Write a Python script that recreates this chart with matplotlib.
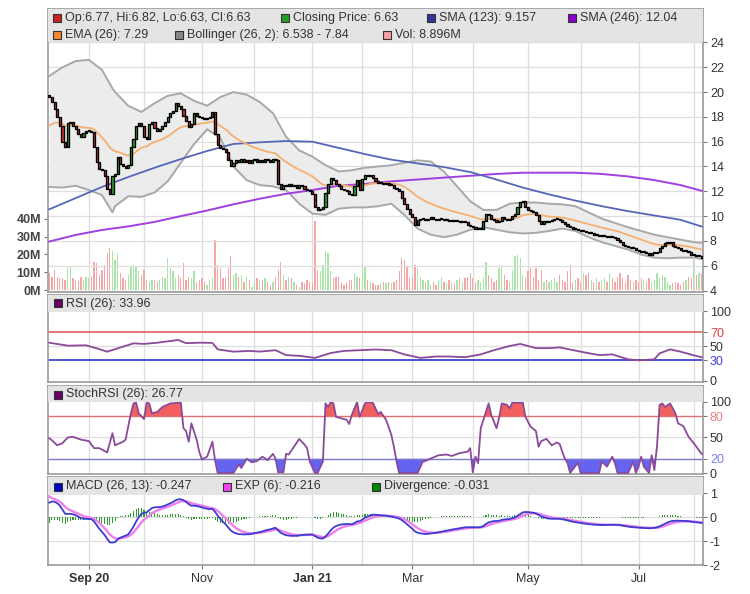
import numpy as np
import pandas as pd
import matplotlib
matplotlib.use("Agg")
import matplotlib.pyplot as plt
from matplotlib.patches import Rectangle

plt.rcParams['font.family'] = ['Liberation Sans', 'DejaVu Sans']
plt.rcParams['axes.unicode_minus'] = False

# ---------------- data ----------------
holidays = ['2020-09-07', '2020-11-26', '2020-12-25', '2021-01-01', '2021-01-18',
            '2021-02-15', '2021-04-02', '2021-05-31', '2021-07-05']
dates = pd.bdate_range('2020-08-11', '2021-08-05', freq='C', holidays=holidays)

first_open = 19.8
close = [19.6, 19.2, 18.6, 18.0, 17.3, 16.0, 15.6, 17.5, 17.6, 17.3,
         17.0, 16.6, 16.4, 16.7, 16.9, 16.9, 16.8, 15.6, 14.4, 13.8,
         13.7, 13.2, 12.2, 11.8, 13.2, 13.4, 14.8, 14.2, 14.0, 13.9,
         14.1, 15.6, 16.2, 17.3, 17.5, 17.3, 16.4, 16.2, 17.4, 17.6,
         17.1, 16.9, 17.0, 17.3, 17.6, 18.0, 18.3, 18.5, 19.1, 18.9,
         18.6, 18.1, 17.7, 17.2, 17.4, 18.3, 18.1, 18.0, 17.9, 17.8,
         17.9, 18.0, 18.4, 16.6, 15.7, 15.5, 15.4, 15.2, 14.5, 14.0,
         14.3, 14.5, 14.4, 14.6, 14.4, 14.5, 14.3, 14.5, 14.6, 14.4,
         14.5, 14.4, 14.6, 14.5, 14.4, 14.6, 14.5, 12.6, 12.2, 12.5,
         12.4, 12.6, 12.4, 12.5, 12.3, 12.5, 12.4, 12.2, 12.1, 12.0,
         11.8, 10.7, 10.5, 10.6, 10.7, 11.9, 12.6, 13.1, 12.9, 12.6,
         12.4, 12.2, 12.1, 12.0, 11.8, 11.7, 12.4, 12.9, 12.1, 13.0,
         13.3, 13.2, 13.3, 13.1, 12.8, 12.7, 12.7, 12.6, 12.7, 12.5,
         12.5, 12.3, 12.2, 12.0, 11.5, 11.0, 10.6, 10.2, 9.9, 9.3,
         9.7, 9.8, 9.8, 9.7, 9.8, 9.9, 9.8, 9.7, 9.8, 9.8,
         9.7, 9.7, 9.6, 9.7, 9.6, 9.6, 9.5, 9.6, 9.5, 9.3,
         9.2, 9.1, 9.0, 9.0, 9.0, 9.6, 10.2, 10.1, 9.8, 9.7,
         9.5, 9.6, 9.9, 9.8, 9.7, 9.8, 10.0, 10.2, 10.7, 11.1,
         11.2, 10.7, 10.5, 10.4, 10.3, 10.1, 9.6, 9.4, 9.6, 9.5,
         9.6, 9.7, 9.8, 9.8, 9.7, 9.5, 9.4, 9.2, 9.1, 9.0,
         9.0, 8.9, 8.8, 8.8, 8.7, 8.6, 8.6, 8.5, 8.5, 8.4,
         8.4, 8.4, 8.3, 8.4, 8.3, 8.2, 8.1, 7.9, 7.7, 7.6,
         7.5, 7.4, 7.4, 7.3, 7.2, 7.1, 7.1, 7.0, 6.9, 7.0,
         7.0, 7.1, 7.4, 7.6, 7.8, 7.8, 7.9, 7.6, 7.5, 7.4,
         7.3, 7.2, 7.2, 7.1, 6.9, 6.9, 6.8, 6.8, 6.63]

volume_m = [9.4, 7.5, 11.3, 7.5, 6.6, 7.0, 5.7, 12.3, 13.2, 6.6,
            5.7, 5.1, 7.5, 5.7, 7.5, 6.6, 7.5, 16.0, 15.1, 8.5,
            11.3, 14.2, 20.8, 23.6, 21.7, 17.0, 20.2, 9.4, 6.6, 5.7,
            8.5, 13.2, 14.2, 13.2, 10.4, 8.5, 11.3, 5.7, 4.7, 5.7,
            5.7, 4.7, 5.7, 7.5, 6.6, 17.9, 12.3, 10.4, 6.6, 8.5,
            6.6, 15.1, 5.7, 7.5, 6.6, 10.4, 4.7, 5.7, 6.6, 4.7,
            2.8, 5.7, 6.6, 28.3, 14.2, 12.3, 6.6, 7.5, 12.3, 18.9,
            8.5, 9.4, 7.5, 8.5, 4.7, 7.5, 5.7, 1.9, 3.8, 6.6,
            5.7, 5.7, 6.6, 4.7, 2.8, 4.7, 6.6, 11.3, 16.0, 8.5,
            5.7, 7.5, 6.6, 4.7, 2.8, 1.9, 4.7, 3.8, 5.7, 4.7,
            3.8, 38.7, 11.3, 10.4, 14.2, 21.7, 20.8, 10.4, 6.6, 7.5,
            7.5, 4.7, 2.8, 4.7, 5.7, 5.7, 9.4, 7.5, 6.6, 14.2,
            13.2, 5.7, 4.7, 3.8, 2.8, 2.8, 3.8, 4.7, 3.8, 4.7,
            3.8, 4.7, 5.7, 10.4, 17.9, 17.0, 13.2, 6.6, 6.6, 14.2,
            12.3, 7.5, 5.7, 4.7, 5.7, 2.8, 4.7, 2.8, 5.7, 7.5,
            4.7, 3.8, 5.7, 4.7, 3.8, 5.7, 6.6, 4.7, 6.6, 7.5,
            9.4, 6.6, 4.7, 5.7, 4.7, 6.6, 16.0, 8.5, 6.6, 4.7,
            5.7, 12.3, 14.2, 8.5, 5.7, 4.7, 11.3, 18.9, 19.8, 17.9,
            8.5, 6.6, 10.4, 12.3, 7.5, 12.3, 5.7, 11.3, 4.7, 5.7,
            4.7, 5.7, 6.6, 4.7, 8.5, 5.7, 4.7, 10.4, 14.2, 4.7,
            5.7, 6.6, 4.7, 9.4, 8.5, 9.4, 5.7, 4.7, 6.6, 4.7,
            5.7, 6.6, 4.7, 9.4, 6.6, 4.7, 7.5, 9.4, 6.6, 4.7,
            8.5, 5.7, 4.7, 5.7, 4.7, 6.6, 5.7, 4.7, 6.6,
            4.7, 5.7, 9.4, 6.6, 8.5, 7.5, 4.7, 2.8, 3.8, 4.7,
            3.8, 2.8, 4.7, 5.7, 7.5, 6.6, 17.0, 8.5, 9.4, 8.896]

# indicator values (session number -> value)
sma_idx = [0, 10, 20, 30, 40, 50, 60, 70, 80, 90, 100, 110, 120, 130, 140, 150,
           160, 170, 180, 190, 200, 210, 220, 230, 240, 248]
sma123 = [10.55, 11.45, 12.35, 13.15, 13.9, 14.6, 15.25, 15.82, 15.95, 16.05, 16.0,
          15.5, 15.0, 14.55, 14.25, 13.95, 13.55, 12.95, 12.3, 11.75, 11.25, 10.8,
          10.4, 10.05, 9.7, 9.157]
sma246 = [7.95, 8.48, 8.88, 9.17, 9.53, 10.0, 10.45, 10.95, 11.4, 11.8, 12.1, 12.45,
          12.6, 12.8, 12.95, 13.1, 13.25, 13.4, 13.5, 13.5, 13.5, 13.4, 13.2, 12.9,
          12.5, 12.04]

bb_idx = [0, 5, 10, 15, 20, 24, 25, 30, 35, 40, 45, 50, 55, 60, 65, 70, 75, 80, 85, 90,
          95, 100, 105, 110, 115, 120, 125, 130, 135, 140, 145, 150, 155, 160, 165, 170,
          175, 180, 185, 190, 195, 200, 205, 210, 215, 220, 225, 230, 235, 240, 245, 248]
bb_upper = [21.3, 22.0, 22.5, 22.6, 21.8, 20.3, 20.0, 18.9, 18.4, 19.1,
            19.7, 19.9, 19.3, 18.9, 19.6, 20.0, 19.8, 19.2, 18.3, 16.4,
            15.3, 14.8, 14.1, 13.6, 13.7, 13.9, 14.0, 14.1, 14.3, 14.5,
            14.4, 13.6, 12.4, 11.2, 10.5, 10.5, 11.0, 11.1, 11.1, 11.0,
            10.95, 10.8, 10.3, 9.8, 9.45, 9.1, 8.8, 8.5, 8.3, 8.1,
            7.9, 7.84]
bb_lower = [12.35, 12.3, 12.45, 12.1, 11.7, 10.3, 10.8, 11.6, 11.55, 11.9,
            12.8, 14.3, 15.8, 17.0, 16.3, 14.0, 12.9, 12.5, 12.4, 12.1,
            11.0, 10.2, 10.1, 10.6, 10.7, 10.7, 10.8, 11.0, 10.1, 9.0,
            8.5, 8.3, 8.5, 8.9, 9.1, 8.9, 8.7, 8.6, 8.65, 8.8,
            9.0, 8.8, 8.3, 7.9, 7.6, 7.3, 6.9, 6.65, 6.6, 6.65,
            6.65, 6.538]

rsi_idx = [0, 7, 14, 18, 22, 26, 32, 36, 41, 49, 52, 57, 62, 64, 70, 76, 80, 86, 90, 95,
           101, 107, 112, 118, 124, 130, 135, 141, 147, 152, 158, 164, 169, 175, 179, 185,
           190, 194, 202, 209, 214, 220, 224, 230, 232, 236, 240, 245, 248]
rsi_val = [54.7, 50.5, 51, 46.7, 41.9, 46.7, 53.8, 53, 54.7, 58.6, 54, 54.7, 54.5, 45.2,
           41.9, 43, 42, 44, 37, 36, 33, 40, 43, 44, 45, 44, 38, 33, 35, 35, 34, 38, 44,
           50, 53, 47, 47, 48, 41.9, 37, 38, 31, 29.5, 31, 39.5, 45.2, 41.9, 36.7, 33.96]

stoch_idx = [0, 1, 3, 5, 7, 9, 12, 15, 17, 19, 22, 24, 25, 28, 29, 31, 32, 33, 34, 36,
             37, 38, 39, 41, 43, 46, 50, 51, 52, 53, 54, 56, 57, 58, 60, 62, 63, 64, 70, 72,
             73, 75, 77, 79, 81, 83, 85, 86, 87, 89, 90, 91, 93, 95, 97, 98, 99, 101, 102, 104,
             105, 106, 107, 108, 109, 111, 113, 114, 115, 117, 118, 120, 121, 123, 125, 126,
             128, 130, 131, 132, 133, 140, 142, 143, 146, 148, 151, 153, 156, 159, 160, 161,
             162, 163, 164, 166, 167, 168, 170, 171, 172, 174, 175, 176, 180, 181, 183, 185,
             186, 187, 189, 191, 193, 194, 195, 196, 197, 198, 200, 201, 202, 209, 210, 212,
             214, 215, 216, 220, 222, 223, 224, 225, 226, 228, 229, 230, 231, 232, 233, 234,
             236, 238, 239, 241, 243, 245, 247, 248]
stoch_val = [49, 46, 39, 42, 50, 51, 47, 45, 35, 35, 29, 56, 39, 44, 47, 84, 98, 99, 84, 76,
             99, 98, 84, 86, 93, 98, 99, 63, 59, 44, 70, 47, 30, 19, 23, 44, 18, 0, 0, 12,
             7, 20, 15, 17, 23, 18, 27, 20, 1, 1, 27, 26, 37, 48, 40, 35, 16, 0, 0, 16,
             98, 93, 100, 98, 79, 77, 75, 69, 82, 100, 79, 98, 100, 99, 83, 86,
             75, 54, 37, 16, 0, 0, 16, 17, 22, 25, 26, 24, 28, 30, 35, 1,
             23, 14, 63, 86, 98, 82, 63, 78, 98, 96, 91, 99, 99, 79, 65, 59,
             37, 45, 48, 39, 43, 41, 30, 20, 14, 0, 10, 14, 0, 0, 16, 9,
             23, 14, 0, 0, 16, 0, 9, 23, 9, 0, 25, 4, 37, 96, 98, 93,
             98, 84, 70, 66, 51, 42, 32, 26.77]

# seeds of the exponential averages on the first session
ema26_seed = 17.1
ema13_seed = 17.6
signal_seed = 0.95

tick_months = ['2020-09', '2020-11', '2021-01', '2021-03', '2021-05', '2021-07']
tick_labels = ['Sep 20', 'Nov', 'Jan 21', 'Mar', 'May', 'Jul']

legend_main = [
    ('Op:6.77, Hi:6.82, Lo:6.63, Cl:6.63', '#cc2222'),
    ('Closing Price: 6.63', '#22a022'),
    ('SMA (123): 9.157', '#333399'),
    ('SMA (246): 12.04', '#8800cc'),
    ('EMA (26): 7.29', '#ee8833'),
    ('Bollinger (26, 2): 6.538 - 7.84', '#888888'),
    ('Vol: 8.896M', '#f4a0a0'),
]
legend_rsi = ('RSI (26): 33.96', '#660066')
legend_stoch = ('StochRSI (26): 26.77', '#660066')
legend_macd = [('MACD (26, 13): -0.247', '#0000cc'), ('EXP (6): -0.216', '#ee44ee'),
               ('Divergence: -0.031', '#008800')]

# ---------------- computed ----------------
close = np.array(close)
n = len(close)
assert len(dates) == n and len(volume_m) == n
opens = np.concatenate([[first_open], close[:-1]])
x = np.arange(n)


def ema_seeded(vals, span, seed):
    a = 2.0 / (span + 1)
    out = np.empty(len(vals))
    prev = seed
    for i, v in enumerate(vals):
        prev = prev + a * (v - prev)
        out[i] = prev
    return out


ema26 = ema_seeded(close, 26, ema26_seed)
ema13 = ema_seeded(close, 13, ema13_seed)
macd = ema13 - ema26
signal = ema_seeded(macd, 6, signal_seed)
div = macd - signal

month_idx = [i for i in range(1, n) if dates[i].month != dates[i - 1].month]
label_idx = [int(np.searchsorted(dates, pd.Timestamp(m + '-01'))) for m in tick_months]

# ---------------- figure ----------------
W, H = 750, 594
fig = plt.figure(figsize=(W / 100, H / 100), dpi=100)
L, R = 48, 703
GRID = '#dedede'
FRAME = '#9a9a9a'
HEAD = '#e4e4e4'


def rect(top, bot):
    return [L / W, 1 - bot / H, (R - L) / W, (bot - top) / H]


def style(a, header_px, total_px):
    a.set_xlim(-0.5, n - 0.5)
    for s in a.spines.values():
        s.set_color(FRAME)
        s.set_linewidth(1.2)
    a.yaxis.tick_right()
    a.tick_params(axis='y', direction='out', length=3, width=0.8, color='#777777',
                  labelsize=9, labelcolor='#333333', pad=2)
    a.tick_params(axis='x', bottom=False, labelbottom=False)
    a.add_patch(Rectangle((0, 1 - header_px / total_px), 1, header_px / total_px,
                          transform=a.transAxes, facecolor=HEAD, edgecolor='none',
                          zorder=10, clip_on=False))


def vgrid(a):
    for m in month_idx:
        a.axvline(m, color=GRID, lw=0.9, zorder=0)


def legend_item(sq_x, y_c, text, color):
    fig.add_artist(Rectangle((sq_x / W, 1 - (y_c + 4) / H), 8 / W, 8 / H,
                             transform=fig.transFigure, facecolor=color,
                             edgecolor='#333333', lw=0.8, zorder=30))
    fig.text((sq_x + 12) / W, 1 - y_c / H, text, fontsize=9, va='center', ha='left',
             color='#333333', zorder=30)


# main panel
axv = fig.add_axes(rect(9, 292))
ax = fig.add_axes(rect(9, 292))
ax.patch.set_visible(False)
axv.set_xlim(-0.5, n - 0.5)
axv.set_ylim(-1.12, 157.9)
vgrid(axv)
up = close >= opens
vol_colors = np.where(up, '#a9e4a9', '#f5a6a6')
axv.bar(x, volume_m, width=0.5, color=vol_colors, lw=0, zorder=2)
axv.set_yticks([0, 10, 20, 30, 40])
axv.set_yticklabels(['0M', '10M', '20M', '30M', '40M'], fontweight='bold')
axv.tick_params(axis='y', direction='out', length=3, width=0.8, color='#777777',
                labelsize=9, labelcolor='#444444', pad=2)
axv.tick_params(axis='x', bottom=False, labelbottom=False)
for s in axv.spines.values():
    s.set_visible(False)

style(ax, 33, 283)
ax.set_ylim(3.88, 26.7)
ax.set_yticks(np.arange(4, 25, 2))
ax.grid(axis='y', color=GRID, lw=0.9)
ax.set_axisbelow(True)
ax.fill_between(bb_idx, bb_lower, bb_upper, color='#ececec', lw=0, zorder=1)
ax.plot(bb_idx, bb_upper, color='#a8a8a8', lw=1.4, zorder=2)
ax.plot(bb_idx, bb_lower, color='#a8a8a8', lw=1.4, zorder=2)
ax.plot(sma_idx, sma246, color='#a040e0', lw=1.4, zorder=3)
ax.plot(sma_idx, sma123, color='#5566b8', lw=1.3, zorder=3)
ax.plot(x, ema26, color='#f4b070', lw=1.3, zorder=3)
body_col = np.where(up, '#2e9e2e', '#cc3333')
ax.bar(x, np.maximum(np.abs(close - opens), 0.08), bottom=np.minimum(close, opens),
       width=0.8, color=body_col, edgecolor='black', lw=0.95, zorder=5)

# RSI panel
ar = fig.add_axes(rect(295, 382))
style(ar, 17, 87)
ar.set_ylim(-1.43, 122.9)
vgrid(ar)
ar.axhline(50, color=GRID, lw=0.9, zorder=0)
ar.axhline(70, color='#e06060', lw=1.2, zorder=2)
ar.axhline(30, color='#3333cc', lw=1.2, zorder=2)
ar.plot(rsi_idx, rsi_val, color='#8a4a9a', lw=1.3, zorder=3)
ar.set_yticks([0, 30, 50, 70, 100])
for t, v in zip(ar.get_yticklabels(), [0, 30, 50, 70, 100]):
    if v == 70:
        t.set_color('#e04040')
    elif v == 30:
        t.set_color('#4040dd')

# StochRSI panel
ast = fig.add_axes(rect(386, 474))
style(ast, 16, 88)
ast.set_ylim(-1.4, 122.5)
vgrid(ast)
ast.axhline(50, color=GRID, lw=0.9, zorder=0)
sv = np.array(stoch_val, dtype=float)
si = np.array(stoch_idx)
ast.fill_between(si, 80, sv, where=sv >= 80, interpolate=True, color='#f25f5f', lw=0, zorder=1)
ast.fill_between(si, 20, sv, where=sv <= 20, interpolate=True, color='#6464f0', lw=0, zorder=1)
ast.axhline(80, color='#e07070', lw=1.0, zorder=2)
ast.axhline(20, color='#7a7acc', lw=1.0, zorder=2)
ast.plot(si, sv, color='#8a4a9a', lw=1.3, zorder=3)
ast.set_yticks([0, 20, 50, 80, 100])
for t, v in zip(ast.get_yticklabels(), [0, 20, 50, 80, 100]):
    if v == 80:
        t.set_color('#f08080')
    elif v == 20:
        t.set_color('#8080f0')

# MACD panel
am = fig.add_axes(rect(477, 565))
style(am, 18, 88)
am.set_ylim(-2, 1.667)
vgrid(am)
for v in (-1, 0, 1):
    am.axhline(v, color=GRID, lw=0.9, zorder=0)
am.bar(x, div, width=0.4, color='#2f9a2f', zorder=2)
am.plot(x, signal, color='#ee80ee', lw=1.7, zorder=3)
am.plot(x, macd, color='#3c3cd0', lw=1.3, zorder=4)
am.set_yticks([-2, -1, 0, 1])
am.set_xticks(label_idx)
am.set_xticklabels(tick_labels)
am.tick_params(axis='x', bottom=True, labelbottom=True, length=3, width=0.8,
               color='#777777', labelsize=9, labelcolor='#333333', pad=3)
for t in am.get_xticklabels():
    if ' ' in t.get_text():
        t.set_fontweight('bold')

# legends
pos_main = [(53, 18), (281, 18), (427, 18), (568, 18), (53, 35), (175, 35), (383, 35)]
for (txt, col), (sx, sy) in zip(legend_main, pos_main):
    legend_item(sx, sy, txt, col)
legend_item(54, 303.5, *legend_rsi)
legend_item(54, 394.5, *legend_stoch)
for (txt, col), sx in zip(legend_macd, [54, 223, 372]):
    legend_item(sx, 486.5, txt, col)

fig.savefig('out.png', dpi=100, facecolor='white')
